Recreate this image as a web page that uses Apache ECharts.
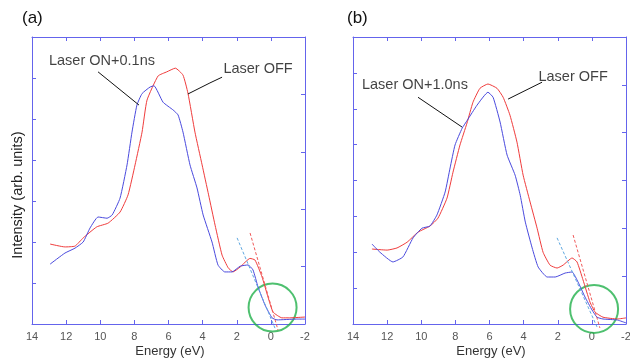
<!DOCTYPE html>
<html><head><meta charset="utf-8">
<script src="https://cdn.jsdelivr.net/npm/echarts@6/dist/echarts.min.js"></script>
<style>html,body{margin:0;padding:0;background:#fff}#c{width:630px;height:358px}</style>
</head><body><div id="c"></div>
<script>
// ---- data (Energy eV, Intensity arb. units) ----
const xTicks = [14,12,10,8,6,4,2,0,-2];
// Panel (a)
const onA_E = [12.94,12.07,11.48,11.0,10.6,10.13,9.6,9.3,8.84,8.43,8.14,7.85,7.55,7.08,6.85,6.32,5.73,5.44,5.15,4.74,4.33,3.97,3.45,3.1,2.7,2.28,1.8,1.34,1.05,0.75,0.34,-0.07,-0.36,-1.5,-2];
const onA_I = [1.46,1.73,1.85,2.0,2.34,2.61,2.58,2.66,3.07,3.88,4.68,5.34,5.62,5.78,5.81,5.41,5.22,5.1,4.68,3.88,3.32,2.66,2.0,1.44,1.27,1.27,1.41,1.44,1.32,0.9,0.46,0.15,0.1,0.12,0.12];
const offA_E = [12.94,12.07,11.48,11.0,10.2,9.54,8.84,8.37,7.96,7.55,7.26,6.61,6.1,5.6,5.15,4.86,4.45,4.03,3.65,3.27,2.86,2.5,2.22,1.8,1.22,0.93,0.52,0.17,-0.13,-0.65,-1.1,-2];
const offA_I = [1.95,1.88,1.9,2.1,2.37,2.46,2.73,3.15,3.88,4.68,5.46,6.05,6.15,6.24,6.07,5.63,4.68,3.88,3.15,2.41,1.68,1.37,1.27,1.39,1.6,1.56,1.15,0.66,0.29,0.15,0.15,0.17];
const tanOnA_E = [1.98,-0.24], tanOnA_I = [2.1,-0.1];
const tanOffA_E = [1.22,-0.42], tanOffA_I = [2.22,-0.15];
const circleA = [-0.1,0.4];
// Panel (b)
const onB_E = [12.89,12.42,11.66,11.07,10.48,9.96,9.49,9.08,8.6,8.31,8.02,7.6,7.3,6.73,6.09,5.79,5.38,4.97,4.5,4.2,3.9,3.5,3.15,2.62,2.15,1.57,1.16,0.81,0.4,-0.01,-0.3,-0.65,-1.5,-2];
const onB_I = [2.23,2.0,1.73,1.87,2.4,2.67,2.73,3.04,3.68,4.35,4.99,5.46,5.68,6.1,6.46,6.32,5.63,4.71,4.15,3.59,2.84,2.12,1.59,1.31,1.31,1.42,1.45,1.17,0.75,0.39,0.19,0.14,0.11,0.03];
const offB_E = [12.89,12.0,11.42,10.83,10.19,9.49,9.02,8.49,8.14,7.73,7.32,6.97,6.56,6.09,5.56,5.2,4.8,4.39,4.03,3.62,3.21,2.86,2.45,2.04,1.69,1.16,0.87,0.52,0.11,-0.19,-0.65,-1.5,-2];
const offB_I = [2.09,2.06,2.12,2.28,2.56,2.73,2.95,3.51,4.23,4.99,5.6,6.18,6.57,6.69,6.57,6.32,5.82,5.07,4.15,3.4,2.67,2.0,1.64,1.56,1.64,1.84,1.73,1.23,0.61,0.33,0.19,0.14,0.17];
const tanOnB_E = [2.04,-0.3], tanOnB_I = [2.4,-0.08];
const tanOffB_E = [1.1,-0.47], tanOffB_I = [2.48,-0.11];
const circleB = [-0.13,0.42];
// annotations
const panelLabels = ['(a)','(b)'];
const yTitle = 'Intensity (arb. units)';
const xTitle = 'Energy (eV)';
const labelsA = ['Laser ON+0.1ns','Laser OFF'];
const labelsB = ['Laser ON+1.0ns','Laser OFF'];
const leadOnA_E = [10.13,7.73], leadOnA_I = [6.15,5.34];
const leadOffA_E = [4.86,3.57,2.86], leadOffA_I = [5.61,5.88,6.02];
const textPosA = [[9.9,6.41],[0.75,6.22]];
const leadOnB_E = [10.19,7.61], leadOnB_I = [6.32,5.49];
const leadOffB_E = [4.91,2.92], leadOffB_I = [6.27,6.74];
const textPosB = [[10.37,6.66],[1.1,6.88]];

const zip = (a,b) => a.map((v,i)=>[v,b[i]]);
const AX = '#6464ec';
const FONT = 'Liberation Sans, Arial, sans-serif';

function xAxes(gi){
  return [
    {gridIndex:gi, type:'value', min:-2, max:14, interval:2, inverse:true, position:'bottom',
     axisLine:{onZero:false,lineStyle:{color:AX}}, axisTick:{inside:true,length:4,lineStyle:{color:AX}},
     axisLabel:{color:'#555',fontSize:11,fontFamily:FONT,margin:7,formatter:v=>String(v)},
     splitLine:{show:false}},
    {gridIndex:gi, type:'value', min:-2, max:14, interval:2, inverse:true, position:'top',
     axisLine:{onZero:false,lineStyle:{color:AX}}, axisTick:{inside:true,length:4,lineStyle:{color:AX}},
     axisLabel:{show:false}, splitLine:{show:false}}
  ];
}
function yAxes(gi, nl, nr){
  return [
    {gridIndex:gi, type:'value', min:0, max:nl, interval:1, position:'left',
     axisLine:{show:true,onZero:false,lineStyle:{color:AX}}, axisTick:{show:true,inside:true,length:4,lineStyle:{color:AX}},
     axisLabel:{show:false}, splitLine:{show:false}},
    {gridIndex:gi, type:'value', min:0, max:nr, interval:1, position:'right',
     axisLine:{show:true,onZero:false,lineStyle:{color:AX}}, axisTick:{show:true,inside:true,length:4,lineStyle:{color:AX}},
     axisLabel:{show:false}, splitLine:{show:false}}
  ];
}
function lineS(xi, yi, data, color){
  return {type:'line', xAxisIndex:xi, yAxisIndex:yi, data:data, showSymbol:false, symbol:'none',
    smooth:0.15, clip:false, silent:true,
    lineStyle:{color:color, width:1}};
}
function straight(xi, yi, data, color, dashed){
  return {type:'line', xAxisIndex:xi, yAxisIndex:yi, data:data, showSymbol:false, symbol:'none',
    smooth:false, clip:false, silent:true,
    lineStyle:{color:color, width:1, type: dashed ? [3,2] : 'solid'}};
}
function circle(xi, yi, pt){
  return {type:'scatter', xAxisIndex:xi, yAxisIndex:yi, data:[pt], symbol:'circle', symbolSize:48,
    clip:false, silent:true, itemStyle:{color:'rgba(0,0,0,0)', borderColor:'#22b04b', borderWidth:2}};
}
function texts(xi, yi, pos, labels){
  return {type:'scatter', xAxisIndex:xi, yAxisIndex:yi, symbolSize:1, clip:false, silent:true,
    itemStyle:{color:'rgba(0,0,0,0)'},
    data: pos.map((p,i)=>({value:p, label:{show:true, formatter:labels[i], position:'inside',
      color:'#111', fontSize:14.5, fontFamily:FONT}}))};
}

const chart = echarts.init(document.getElementById('c'), null, {renderer:'canvas'});
chart.setOption({
  animation:false,
  backgroundColor:'#fff',
  grid:[{left:32, top:37, width:273, height:287, outerBoundsMode:'none', containLabel:false},
        {left:353, top:37, width:273, height:287, outerBoundsMode:'none', containLabel:false}],
  xAxis:[...xAxes(0), ...xAxes(1)],
  yAxis:[...yAxes(0,7,5), ...yAxes(1,8,6)],
  graphic:[
    {type:'text', left:22, top:10, style:{text:panelLabels[0], fontSize:17, fontFamily:FONT, fill:'#111'}},
    {type:'text', left:347, top:10, style:{text:panelLabels[1], fontSize:17, fontFamily:FONT, fill:'#111'}},
    {type:'text', x:18, y:195, rotation:Math.PI/2,
     style:{text:yTitle, fontSize:14.5, fontFamily:FONT, fill:'#222', align:'center', verticalAlign:'middle'}},
    {type:'text', x:170, y:351, style:{text:xTitle, fontSize:13, fontFamily:FONT, fill:'#333', align:'center', verticalAlign:'middle'}},
    {type:'text', x:491, y:351, style:{text:xTitle, fontSize:13, fontFamily:FONT, fill:'#333', align:'center', verticalAlign:'middle'}}
  ],
  series:[
    lineS(0,0,zip(offA_E,offA_I),'#f03c3c'),
    lineS(0,0,zip(onA_E,onA_I),'#4a4ade'),
    straight(0,0,zip(tanOnA_E,tanOnA_I),'#5fa8e0',true),
    straight(0,0,zip(tanOffA_E,tanOffA_I),'#f05a5a',true),
    circle(0,0,circleA),
    straight(0,0,zip(leadOnA_E,leadOnA_I),'#111',false),
    straight(0,0,zip(leadOffA_E,leadOffA_I),'#111',false),
    texts(0,0,textPosA,labelsA),
    lineS(2,2,zip(offB_E,offB_I),'#f03c3c'),
    lineS(2,2,zip(onB_E,onB_I),'#4a4ade'),
    straight(2,2,zip(tanOnB_E,tanOnB_I),'#5fa8e0',true),
    straight(2,2,zip(tanOffB_E,tanOffB_I),'#f05a5a',true),
    circle(2,2,circleB),
    straight(2,2,zip(leadOnB_E,leadOnB_I),'#111',false),
    straight(2,2,zip(leadOffB_E,leadOffB_I),'#111',false),
    texts(2,2,textPosB,labelsB)
  ]
});
</script></body></html>
